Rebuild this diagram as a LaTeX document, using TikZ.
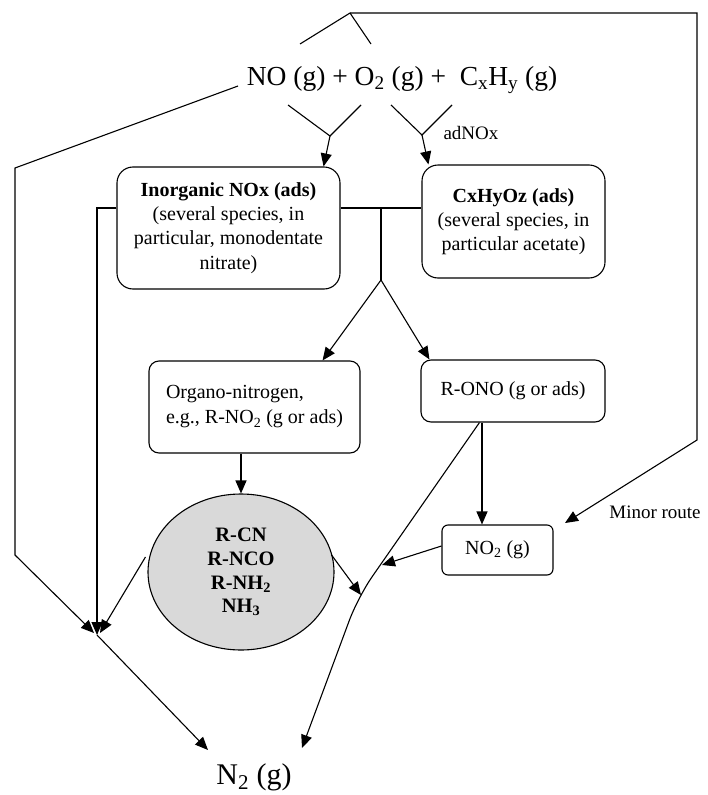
\documentclass[tikz,border=0pt]{standalone}
\usepackage{fontspec}
\setmainfont{Liberation Serif}
\usetikzlibrary{arrows.meta,shapes.geometric,calc}
\definecolor{ellgray}{RGB}{217,217,217}
\begin{document}
\begin{tikzpicture}[x=1pt,y=-1pt,
  line width=1.1pt,
  arr/.style={-{Triangle[length=13pt,width=11pt]}},
  bigbox/.style={draw,rounded corners=16pt,align=center,inner sep=3pt,font=\fontsize{20}{24.3}\selectfont},
  midbox/.style={draw,rounded corners=10pt,inner sep=3pt,font=\fontsize{20}{25}\selectfont},
  smallbox/.style={draw,rounded corners=6pt,inner sep=3pt,font=\fontsize{20}{24}\selectfont},
  lbl/.style={inner sep=0pt,font=\fontsize{19}{22}\selectfont},
  big/.style={inner sep=0pt,font=\fontsize{27.5}{32}\selectfont}]
\useasboundingbox (0,0) rectangle (707,795);

% nodes
\node[big] (src) at (402,80) {NO (g) + O\textsubscript{2} (g) +\ \ C\textsubscript{x}H\textsubscript{y} (g)};
\node[bigbox, minimum width=223pt, minimum height=122pt] (inorg) at (228.5,228)
  {\textbf{Inorganic NOx (ads)}\\(several species, in\\particular, monodentate\\nitrate)};
\node[bigbox, minimum width=183pt, minimum height=113pt] (cxhy) at (513.5,221.5)
  {\textbf{CxHyOz (ads)}\\(several species, in\\particular acetate)};
\node[midbox, align=left, minimum width=211pt, minimum height=92pt] (organo) at (254.5,407)
  {Organo-nitrogen,\\e.g., R-NO\textsubscript{2} (g or ads)};
\node[midbox, minimum width=184pt, minimum height=62pt] (rono) at (513,391) {R-ONO (g or ads)};
\node[smallbox, minimum width=111pt, minimum height=50pt] (no2) at (497.5,550) {NO\textsubscript{2} (g)};
\node[ellipse, draw, fill=ellgray, minimum width=186pt, minimum height=156pt, inner sep=0pt,
  align=center, font=\fontsize{20.5}{23.7}\selectfont\bfseries] (ell) at (241,572)
  {R-CN\\R-NCO\\R-NH\textsubscript{2}\\NH\textsubscript{3}};
\node[inner sep=0pt,font=\fontsize{30}{34}\selectfont] (n2) at (254,777) {N\textsubscript{2} (g)};
\node[lbl] (minor) at (655,512) {Minor route};
\node[lbl, anchor=west] (adnox) at (443,133) {adNOx};

% coordinates
\coordinate (apex) at (350,13);
\coordinate (bl) at (300,44);
\coordinate (br) at (371,44);
\coordinate (tr) at (697,13);
\coordinate (rb) at (697,440);
\coordinate (minortip) at (565,523);
\coordinate (ls) at (238,86);
\coordinate (lc1) at (15,168);
\coordinate (lc2) at (15,555);
\coordinate (convl) at (94,633);
\coordinate (conv) at (97,635);
\coordinate (convr) at (100,633);
\coordinate (jn) at (381,208);
\coordinate (vx) at (97,208);
\coordinate (split) at (381,280);
\coordinate (ya) at (288,105);
\coordinate (yb) at (361,105);
\coordinate (yj) at (330,136);
\coordinate (yc) at (391,105);
\coordinate (yd) at (452,105);
\coordinate (yk) at (422,135);
\coordinate (rx) at (482,0);
\coordinate (hit) at (382,565);
\coordinate (bend) at (358,597);
\coordinate (bendtip) at (361,595);
\coordinate (n2a) at (208,750);
\coordinate (n2b) at (302,748);

% connectors
\draw (bl) -- (apex) -- (br);
\draw[arr] (apex) -- (tr) -- (rb) -- (minortip);
\draw[arr] (ls) -- (lc1) -- (lc2) -- (convl);
\draw (ya) -- (yj) -- (yb);
\draw[arr] (yj) -- ($(inorg.north east)+(-17,0)$);
\draw (yc) -- (yk) -- (yd);
\draw[arr] (yk) -- ($(cxhy.north west)+(7,0)$);
\draw (inorg.east |- jn) -- (cxhy.west |- jn);
\draw (jn) -- (split);
\draw[arr] (split) -- ($(organo.north east)+(-38,0)$);
\draw[arr] (split) -- ($(rono.north west)+(9,0)$);
\draw[arr] (inorg.west |- jn) -- (vx) -- (conv);
\draw[arr] (organo.south -| ell.north) -- (ell.north);
\draw[arr] ($(ell.west)+(-2,-15)$) -- (convr);
\draw[arr] (conv) -- (n2a);
\draw[arr] ($(ell.east)+(-3,-17)$) -- (bendtip);
\draw[arr] (rono.south -| rx) -- (no2.north -| rx);
\draw[arr] ($(no2.west)+(0,-4)$) -- (hit);
\draw[arr, rounded corners=25pt] ($(rono.south west)+(59,0)$) -- (bend) -- (n2b);
\end{tikzpicture}
\end{document}
